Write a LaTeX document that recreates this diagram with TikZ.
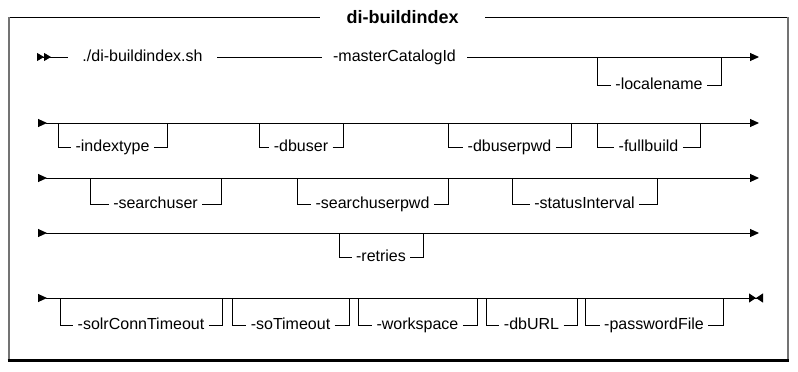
\documentclass[tikz,border=0pt]{standalone}
\usepackage{fontspec}
\setmainfont{Liberation Sans}
\usetikzlibrary{arrows.meta}

\begin{document}
\begin{tikzpicture}
    [x=1pt,y=-1pt,line width=1pt,
    % Styles
    rail/.style={line width=1pt},
    option text/.style={font=\fontsize{16}{18}\selectfont,fill=white,
        inner xsep=4pt,inner ysep=0pt,text height=11.7pt,text depth=3.4pt},
    title text/.style={font=\fontsize{18}{20}\selectfont\bfseries,inner xsep=26pt},
    rail entry/.style={{Triangle[reversed,length=9pt,width=8pt]}-{Triangle[length=9pt,width=8pt]}},
    rail begin/.style={{Triangle[reversed,length=7pt,width=8pt]Triangle[reversed,length=7pt,width=8pt]}-},
    rail end/.style={{Triangle[reversed,length=9pt,width=8pt]}-{Triangle[length=7pt,width=9pt]Triangle[reversed,length=7pt,width=9pt]}}]

    % Colors
    \colorlet{framecolor}{black!55}

    \useasboundingbox (0,0) rectangle (798,372);

    % Frame
    \node[title text] (title) at (402.5,17) {di-buildindex};
    \draw (8,17) -- (title.west);
    \draw (title.east) -- (788,17);
    \draw[framecolor,line width=2pt] (8.5,17) -- (8.5,361);
    \draw[framecolor,line width=2pt] (787.5,17) -- (787.5,361);
    \draw[line width=3pt] (7.5,360.5) -- (788.5,360.5);

    % Coordinates
    \coordinate (start1) at (37,57);
    \coordinate (end1) at (759,57);
    \foreach \row/\y in {2/123,3/178,4/233,5/298}
    {
        \coordinate (start\row) at (38,\y);
        \coordinate (end\row) at (759,\y);
    }
    \coordinate (end5) at (763,298);

    % Main line
    \node[option text,inner xsep=14pt] (script) at (142.5,57) {./di-buildindex.sh};
    \node[option text,inner xsep=11pt] (master) at (394.5,57) {-masterCatalogId};
    \draw[rail,rail begin] (start1) -- (script);
    \draw[rail] (script) -- (master);
    \draw[rail,-{Triangle[length=9pt,width=8pt]}] (master) -- (end1);

    \foreach \row in {2,3,4}
        \draw[rail,rail entry] (start\row) -- (end\row);
    \draw[rail,rail end] (start5) -- (end5);

    % Optional parameters
    \foreach \n/\l/\r/\y/\b in {localename/597/721/57/85,
        indextype/58/167/123/147, dbuser/259/343/123/147,
        dbuserpwd/448/571/123/147, fullbuild/597/700/123/147,
        searchuser/90/221/178/204, searchuserpwd/297/448/178/204,
        statusInterval/512/657/178/204,
        retries/339/423/233/257,
        solrConnTimeout/60/222/298/325, soTimeout/232/349/298/325,
        workspace/358/477/298/325, dbURL/486/577/298/325,
        passwordFile/585/723/298/325}
    {
        \node[option text] (\n) at ({(\l+\r)/2},\b) {-\n};
        \draw[rail] (\l,\y) |- (\n.west);
        \draw[rail] (\n.east) -| (\r,\y);
    }

\end{tikzpicture}
\end{document}
